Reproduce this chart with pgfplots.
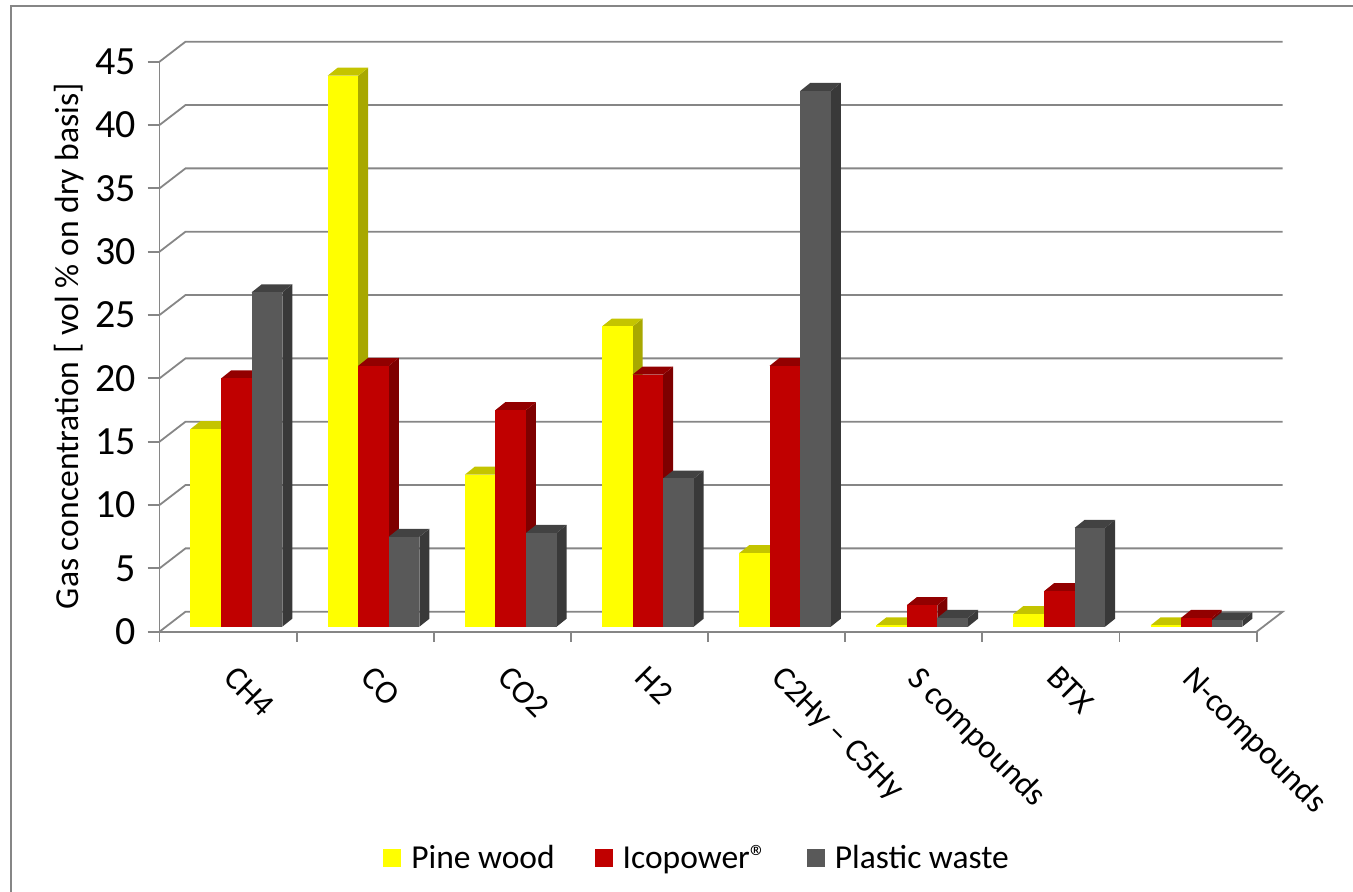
\documentclass[border=0pt]{standalone}
\usepackage{fontspec}
\setmainfont{Carlito}
\usepackage{pgfplots}
\pgfplotsset{compat=1.18}

\definecolor{wallgrey}{HTML}{868686}
\definecolor{pinefront}{HTML}{FFFF00}
\definecolor{pinetop}{HTML}{C4C400}
\definecolor{pineside}{HTML}{A8A800}
\definecolor{icofront}{HTML}{C00000}
\definecolor{icotop}{HTML}{920000}
\definecolor{icoside}{HTML}{7E0000}
\definecolor{plasticfront}{HTML}{595959}
\definecolor{plastictop}{HTML}{424242}
\definecolor{plasticside}{HTML}{393939}

% One bar with its side and top faces: #1 group, #2 place in the group,
% #3 concentration, #4 colour stem.
\newcommand{\gasbar}[4]{%
  \pgfmathsetmacro\xa{#1+0.226+#2*0.2231}%
  \pgfmathsetmacro\xb{\xa+0.2231}%
  \pgfmathsetmacro\xc{\xb+0.0729}%
  \pgfmathsetmacro\xd{\xa+0.0729}%
  \pgfmathsetmacro\ya{0.395}%
  \pgfmathsetmacro\yb{\ya+#3}%
  \pgfmathsetmacro\yc{\ya+0.631}%
  \pgfmathsetmacro\yd{\yb+0.631}%
  \edef\gasfaces{%
    \noexpand\addplot[forget plot,draw=none,fill=#4side] coordinates
      {(\xb,\ya)(\xc,\yc)(\xc,\yd)(\xb,\yb)};
    \noexpand\addplot[forget plot,draw=none,fill=#4top] coordinates
      {(\xa,\yb)(\xd,\yd)(\xc,\yd)(\xb,\yb)};
    \noexpand\addplot[forget plot,draw=none,fill=#4front] coordinates
      {(\xa,\ya)(\xa,\yb)(\xb,\yb)(\xb,\ya)};
  }%
  \gasfaces
}

\begin{document}
\begin{tikzpicture}[x=1pt,y=1pt]
\path[use as bounding box] (0,0) rectangle (1353,892);
\draw[wallgrey,line width=1.8pt] (11,0) -- (11,886) -- (1353,886);
\begin{axis}[
  at={(159.5pt,260.3pt)},anchor=south west,
  scale only axis,width=1097.2pt,height=570pt,
  xmin=0,xmax=8,ymin=0,ymax=45,
  clip=false,
  axis x line*=bottom,axis y line*=left,
  axis line style={wallgrey,line width=1.8pt,-},
  xtick={0.5,1.5,...,7.5},
  minor xtick={0,1,...,8},
  xticklabels={CH4,CO,CO2,H2,C2Hy -- C5Hy,S compounds,BTX,N-compounds},
  ytick={0,5,...,45},
  major tick length=12pt,
  minor tick length=10pt,
  x tick style={draw=none},
  minor x tick style={draw=wallgrey,line width=1.8pt},
  y tick style={draw=wallgrey,line width=1.8pt},
  /pgf/number format/assume math mode=true,
  tick align=outside,
  yticklabel style={font=\fontsize{40}{40}\selectfont,xshift=-8pt},
  xticklabel style={font=\fontsize{33}{33}\selectfont,rotate=-45,anchor=north west,xshift=17.8pt,yshift=-4.8pt},
  ylabel={Gas concentration [ vol \% on dry basis]},
  every axis y label/.style={at={(axis description cs:-0.082,0.501)},rotate=90,anchor=center,font=\fontsize{33.6}{33.6}\selectfont},
  legend columns=3,
  legend style={draw=none,fill=none,at={(axis description cs:0.49,-0.397)},anchor=center,
    font=\fontsize{33.5}{33.5}\selectfont,
    /tikz/every odd column/.append style={column sep=8pt},
    /tikz/every even column/.append style={column sep=38pt}},
  legend image code/.code={\fill[draw=none,#1] (0pt,-9pt) rectangle (18pt,9pt);},
]
% back wall, left wall and floor edge
\addplot[forget plot,wallgrey,line width=1.8pt,unbounded coords=jump] coordinates {
 (0,0)(0.1896,1.578)(8.1896,1.578)(8,0) (0,nan)
 (0,5)(0.1896,6.578)(8.1896,6.578) (0,nan)
 (0,10)(0.1896,11.578)(8.1896,11.578) (0,nan)
 (0,15)(0.1896,16.578)(8.1896,16.578) (0,nan)
 (0,20)(0.1896,21.578)(8.1896,21.578) (0,nan)
 (0,25)(0.1896,26.578)(8.1896,26.578) (0,nan)
 (0,30)(0.1896,31.578)(8.1896,31.578) (0,nan)
 (0,35)(0.1896,36.578)(8.1896,36.578) (0,nan)
 (0,40)(0.1896,41.578)(8.1896,41.578) (0,nan)
 (0,45)(0.1896,46.578)(8.1896,46.578)
};
% concentrations per gas: pine wood, Icopower, plastic waste
\gasbar{0}{0}{15.6}{pine}\gasbar{0}{1}{19.6}{ico}\gasbar{0}{2}{26.4}{plastic}
\gasbar{1}{0}{43.5}{pine}\gasbar{1}{1}{20.6}{ico}\gasbar{1}{2}{7.1}{plastic}
\gasbar{2}{0}{12.0}{pine}\gasbar{2}{1}{17.1}{ico}\gasbar{2}{2}{7.4}{plastic}
\gasbar{3}{0}{23.7}{pine}\gasbar{3}{1}{19.9}{ico}\gasbar{3}{2}{11.7}{plastic}
\gasbar{4}{0}{5.8}{pine}\gasbar{4}{1}{20.6}{ico}\gasbar{4}{2}{42.3}{plastic}
\gasbar{5}{0}{0.1}{pine}\gasbar{5}{1}{1.7}{ico}\gasbar{5}{2}{0.7}{plastic}
\gasbar{6}{0}{1.0}{pine}\gasbar{6}{1}{2.8}{ico}\gasbar{6}{2}{7.8}{plastic}
\gasbar{7}{0}{0.1}{pine}\gasbar{7}{1}{0.7}{ico}\gasbar{7}{2}{0.5}{plastic}
\addlegendimage{fill=pinefront}\addlegendentry{Pine wood}
\addlegendimage{fill=icofront}\addlegendentry{Icopower®}
\addlegendimage{fill=plasticfront}\addlegendentry{Plastic waste}
\end{axis}
\end{tikzpicture}
\end{document}
